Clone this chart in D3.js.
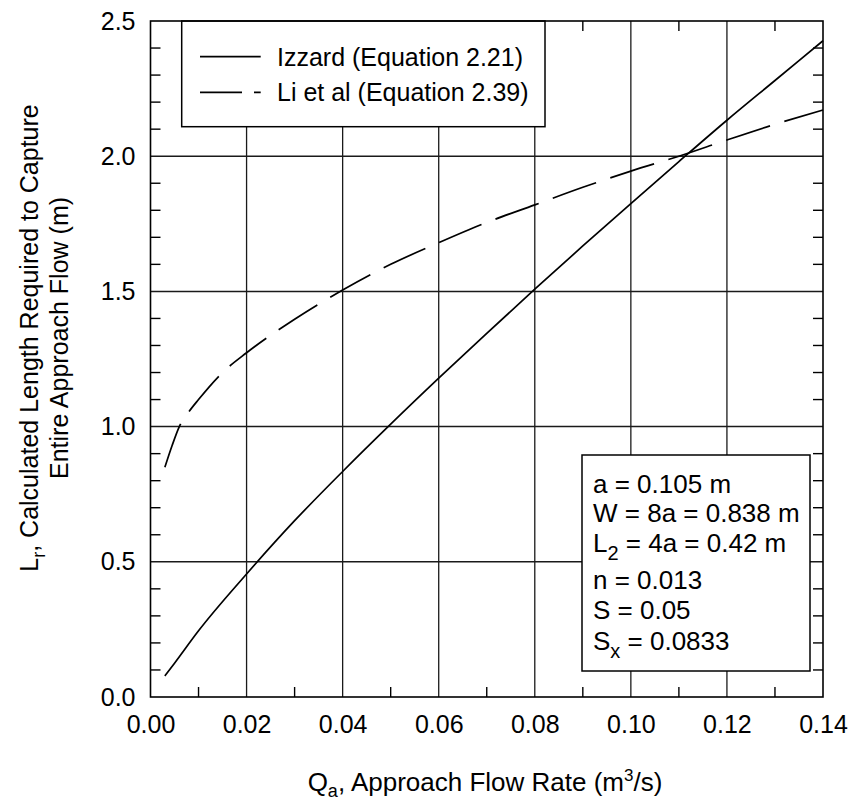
<!DOCTYPE html>
<html>
<head>
<meta charset="utf-8">
<script src="https://cdn.jsdelivr.net/npm/d3@7"></script>
<style>
  html, body { margin: 0; padding: 0; background: #fff; }
  svg text { font-family: "Liberation Sans", Arial, Helvetica, sans-serif; fill: #000; }
</style>
</head>
<body>
<svg id="chart" width="854" height="803"></svg>
<script>
// ---- data ----
const izzardQ = [0.003, 0.005, 0.01, 0.02, 0.03, 0.04, 0.05, 0.06, 0.07, 0.08, 0.09, 0.10, 0.11, 0.12, 0.13, 0.14];
const izzardL = [0.078, 0.125, 0.245, 0.455, 0.652, 0.834, 1.009, 1.179, 1.345, 1.508, 1.668, 1.825, 1.98, 2.133, 2.28, 2.427];
const liQ = [0.003, 0.0045, 0.006, 0.008, 0.01, 0.015, 0.02, 0.03, 0.04, 0.05, 0.06, 0.07, 0.08, 0.09, 0.10, 0.11, 0.12, 0.13, 0.14];
const liL = [0.85, 0.93, 1.0, 1.055, 1.10, 1.20, 1.273, 1.397, 1.505, 1.60, 1.68, 1.755, 1.82, 1.885, 1.945, 2.0, 2.06, 2.118, 2.171];
const xTicks = [0.00, 0.02, 0.04, 0.06, 0.08, 0.10, 0.12, 0.14];
const xTickLabels = ["0.00", "0.02", "0.04", "0.06", "0.08", "0.10", "0.12", "0.14"];
const yTicks = [0.0, 0.5, 1.0, 1.5, 2.0, 2.5];
const yTickLabels = ["0.0", "0.5", "1.0", "1.5", "2.0", "2.5"];
const xGrid = [0.02, 0.04, 0.06, 0.08, 0.10, 0.12];
const yGrid = [0.5, 1.0, 1.5, 2.0];
const xMinor = [0.01, 0.03, 0.05, 0.07, 0.09, 0.11, 0.13];
const yMinor = [0.1, 0.2, 0.3, 0.4, 0.6, 0.7, 0.8, 0.9, 1.1, 1.2, 1.3, 1.4, 1.6, 1.7, 1.8, 1.9, 2.1, 2.2, 2.3, 2.4];
const legendLabels = ["Izzard (Equation 2.21)", "Li et al (Equation 2.39)"];
const paramLines = [
  ["a = 0.105 m"],
  ["W = 8a = 0.838 m"],
  ["L", "2", " = 4a = 0.42 m"],
  ["n = 0.013"],
  ["S = 0.05"],
  ["S", "x", " = 0.0833"]
];

// ---- layout ----
const L = 150.5, R = 823, T = 21, B = 697;
const FS = 25;
const svg = d3.select("#chart");
const x = d3.scaleLinear().domain([0, 0.14]).range([L, R]);
const y = d3.scaleLinear().domain([0, 2.5]).range([B, T]);

// gridlines
svg.append("g").selectAll("line").data(xGrid).join("line")
  .attr("x1", d => x(d)).attr("x2", d => x(d)).attr("y1", T).attr("y2", B)
  .attr("stroke", "#1a1a1a").attr("stroke-width", 1.3);
svg.append("g").selectAll("line").data(yGrid).join("line")
  .attr("x1", L).attr("x2", R).attr("y1", d => y(d)).attr("y2", d => y(d))
  .attr("stroke", "#1a1a1a").attr("stroke-width", 1.5);

// minor ticks (inward, all four sides)
const tk = 10;
const mt = svg.append("g").attr("stroke", "#000").attr("stroke-width", 1.4);
mt.selectAll(".xb").data(xMinor).join("line").attr("class", "xb")
  .attr("x1", d => x(d)).attr("x2", d => x(d)).attr("y1", B).attr("y2", B - tk);
mt.selectAll(".xt").data(xMinor).join("line").attr("class", "xt")
  .attr("x1", d => x(d)).attr("x2", d => x(d)).attr("y1", T).attr("y2", T + tk);
mt.selectAll(".yl").data(yMinor).join("line").attr("class", "yl")
  .attr("x1", L).attr("x2", L + tk).attr("y1", d => y(d)).attr("y2", d => y(d));
mt.selectAll(".yr").data(yMinor).join("line").attr("class", "yr")
  .attr("x1", R).attr("x2", R - tk).attr("y1", d => y(d)).attr("y2", d => y(d));

// curves
const line = d3.line().x(d => x(d[0])).y(d => y(d[1])).curve(d3.curveMonotoneX);
const izz = izzardQ.map((q, i) => [q, izzardL[i]]);
const li = liQ.map((q, i) => [q, liL[i]]);
svg.append("path").datum(izz).attr("d", line)
  .attr("fill", "none").attr("stroke", "#000").attr("stroke-width", 1.7);
svg.append("path").datum(li).attr("d", line)
  .attr("fill", "none").attr("stroke", "#000").attr("stroke-width", 1.7)
  .attr("stroke-dasharray", "46,15");

// legend box
const lg = svg.append("g");
lg.append("rect").attr("x", 181.7).attr("y", T).attr("width", 545 - 181.7).attr("height", 126.7 - T)
  .attr("fill", "#fff").attr("stroke", "#000").attr("stroke-width", 1.5);
const legY = [56.7, 92.3];
lg.append("line").attr("x1", 200).attr("x2", 260.7).attr("y1", legY[0]).attr("y2", legY[0])
  .attr("stroke", "#000").attr("stroke-width", 1.7);
lg.append("line").attr("x1", 200).attr("x2", 260.7).attr("y1", legY[1]).attr("y2", legY[1])
  .attr("stroke", "#000").attr("stroke-width", 1.7).attr("stroke-dasharray", "42,12");
lg.selectAll("text").data(legendLabels).join("text")
  .attr("x", 277).attr("y", (d, i) => legY[i] + 9)
  .attr("font-size", FS).text(d => d);

// parameter box
const PFS = 26;
const pb = svg.append("g");
pb.append("rect").attr("x", 582).attr("y", 455).attr("width", 810 - 582).attr("height", 671 - 455)
  .attr("fill", "#fff").attr("stroke", "#000").attr("stroke-width", 1.5);
const pBase = [492.7, 521.7, 551.7, 588.5, 619.3, 650];
paramLines.forEach((parts, i) => {
  const t = pb.append("text").attr("x", 593).attr("y", pBase[i]).attr("font-size", PFS);
  if (parts.length === 1) {
    t.text(parts[0]);
  } else {
    t.append("tspan").text(parts[0]);
    t.append("tspan").attr("dy", 8).attr("font-size", 20).text(parts[1]);
    t.append("tspan").attr("dy", -8).text(parts[2]);
  }
});

// frame
svg.append("rect").attr("x", L).attr("y", T).attr("width", R - L).attr("height", B - T)
  .attr("fill", "none").attr("stroke", "#000").attr("stroke-width", 1.6);

// axes (labels only)
const xAxis = d3.axisBottom(x).tickValues(xTicks).tickSize(0).tickPadding(18)
  .tickFormat((d, i) => xTickLabels[i]);
const gx = svg.append("g").attr("transform", `translate(0,${B})`).call(xAxis);
gx.select(".domain").remove();
gx.selectAll("text").attr("font-size", FS).attr("font-family", null);

const yAxis = d3.axisLeft(y).tickValues(yTicks).tickSize(0).tickPadding(15)
  .tickFormat((d, i) => yTickLabels[i]);
const gy = svg.append("g").attr("transform", `translate(${L},0)`).call(yAxis);
gy.select(".domain").remove();
gy.selectAll("text").attr("font-size", FS).attr("font-family", null);

// axis titles
const xt = svg.append("text").attr("x", 485).attr("y", 791).attr("text-anchor", "middle").attr("font-size", 26);
xt.append("tspan").text("Q");
xt.append("tspan").attr("dy", 6).attr("font-size", 18).text("a");
xt.append("tspan").attr("dy", -6).text(", Approach Flow Rate (m");
xt.append("tspan").attr("dy", -10).attr("font-size", 17).text("3");
xt.append("tspan").attr("dy", 10).text("/s)");

const yt1 = svg.append("text").attr("transform", "translate(38,338) rotate(-90)")
  .attr("text-anchor", "middle").attr("font-size", FS);
yt1.append("tspan").text("L");
yt1.append("tspan").attr("dy", 7).attr("font-size", 18).text("r");
yt1.append("tspan").attr("dy", -7).text(", Calculated Length Required to Capture");
svg.append("text").attr("transform", "translate(68,338) rotate(-90)")
  .attr("text-anchor", "middle").attr("font-size", FS).text("Entire Approach Flow (m)");
</script>
</body>
</html>
